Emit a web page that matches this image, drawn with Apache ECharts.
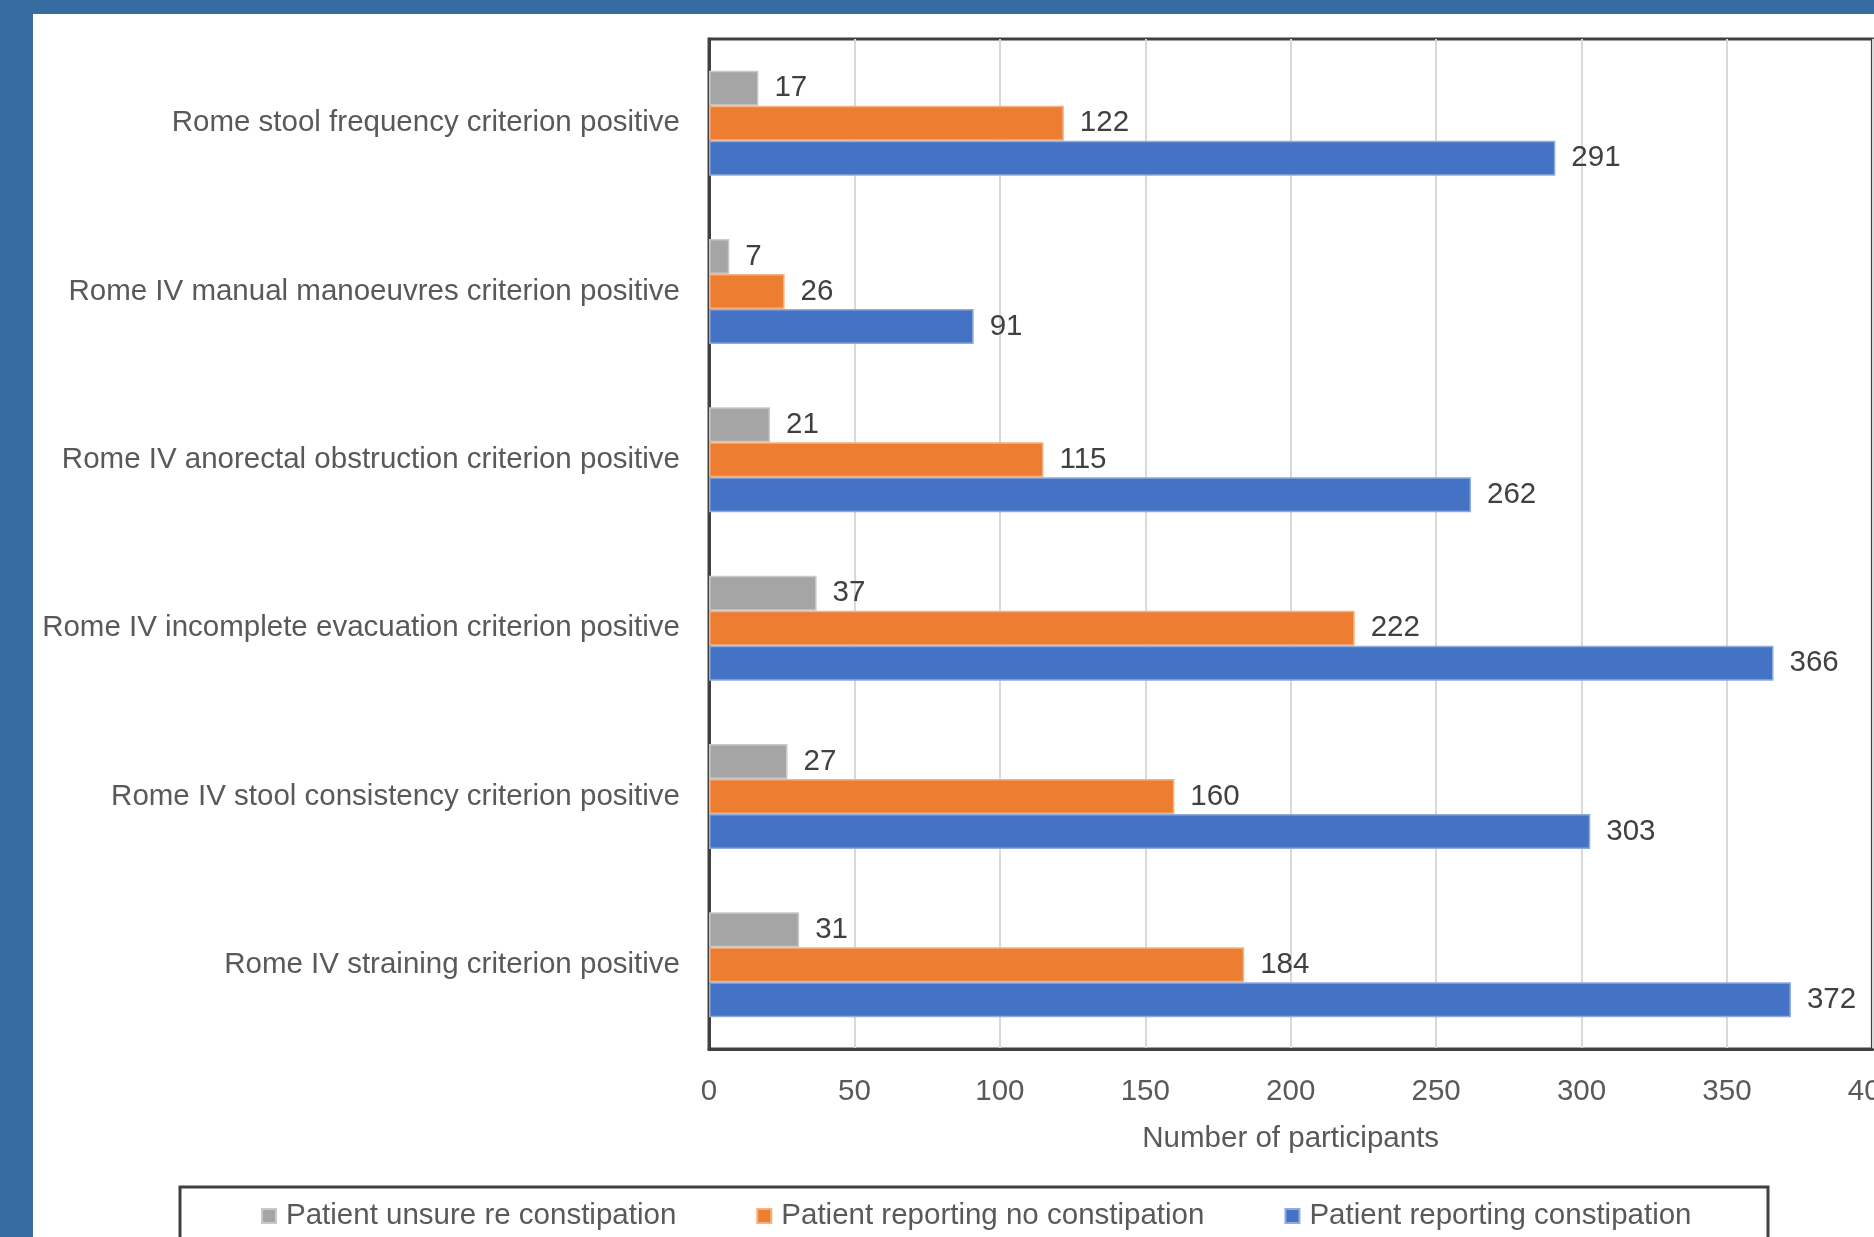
<!DOCTYPE html>
<html>
<head>
<meta charset="utf-8">
<script src="https://cdn.jsdelivr.net/npm/echarts@6/dist/echarts.min.js"></script>
<style>
html,body{margin:0;padding:0;background:#fff;overflow:hidden;}
#c{width:1900px;height:1237px;}
</style>
</head>
<body>
<div id="c"></div>
<script>
var categories = [
  'Rome stool frequency criterion positive',
  'Rome IV manual manoeuvres criterion positive',
  'Rome IV anorectal obstruction criterion positive',
  'Rome IV incomplete evacuation criterion positive',
  'Rome IV stool consistency criterion positive',
  'Rome IV straining criterion positive'
];
var unsure = [17, 7, 21, 37, 27, 31];
var noConstipation = [122, 26, 115, 222, 160, 184];
var constipation = [291, 91, 262, 366, 303, 372];
var seriesNames = ['Patient unsure re constipation', 'Patient reporting no constipation', 'Patient reporting constipation'];
var xTicks = {min: 0, max: 400, interval: 50};

var FONT = 'Liberation Sans';
var FS = 29.5;
var TXT = '#595959';
var chart = echarts.init(document.getElementById('c'));

function mk(name, data, color, border) {
  return {
    name: name, type: 'bar', data: data,
    barWidth: 35, barGap: '0%',
    itemStyle: {color: color, borderColor: border, borderWidth: 1.5},
    label: {show: true, position: 'right', distance: 16, color: '#404040', fontFamily: FONT, fontSize: FS}
  };
}

chart.setOption({
  animation: false,
  backgroundColor: '#ffffff',
  graphic: [
    {type: 'rect', shape: {x: 0, y: 0, width: 1900, height: 14}, style: {fill: '#376ca0'}, z: 100},
    {type: 'rect', shape: {x: 0, y: 0, width: 33, height: 1237}, style: {fill: '#376ca0'}, z: 100},
    {type: 'rect', shape: {x: 180, y: 1187, width: 1588, height: 80}, style: {fill: 'none', stroke: '#404040', lineWidth: 3}, z: 1}
  ],
  grid: {left: 709, top: 39, bottom: 188, right: 17, show: true, borderColor: '#404040', borderWidth: 3, containLabel: false},
  legend: {
    left: 256, top: 1196, itemWidth: 14, itemHeight: 14, itemGap: 80,
    icon: 'rect',
    textStyle: {color: TXT, fontFamily: FONT, fontSize: FS, padding: [0, 0, 0, 5]},
    data: seriesNames
  },
  xAxis: {
    type: 'value', min: xTicks.min, max: xTicks.max, interval: xTicks.interval,
    axisLine: {show: true, lineStyle: {color: '#404040', width: 3}},
    axisTick: {show: false},
    splitLine: {show: true, lineStyle: {color: '#d9d9d9', width: 2}},
    axisLabel: {color: TXT, fontFamily: FONT, fontSize: FS, margin: 28},
    name: 'Number of participants', nameLocation: 'middle', nameGap: 75,
    nameTextStyle: {color: TXT, fontFamily: FONT, fontSize: FS}
  },
  yAxis: {
    type: 'category', data: categories, inverse: true,
    axisLine: {show: true, lineStyle: {color: '#404040', width: 3}},
    axisTick: {show: false},
    axisLabel: {color: TXT, fontFamily: FONT, fontSize: FS, margin: 29}
  },
  series: [
    mk(seriesNames[0], unsure, '#a5a5a5', '#c9c9c9'),
    mk(seriesNames[1], noConstipation, '#ed7d31', '#f4b183'),
    mk(seriesNames[2], constipation, '#4472c4', '#8faadc')
  ]
});
</script>
</body>
</html>
